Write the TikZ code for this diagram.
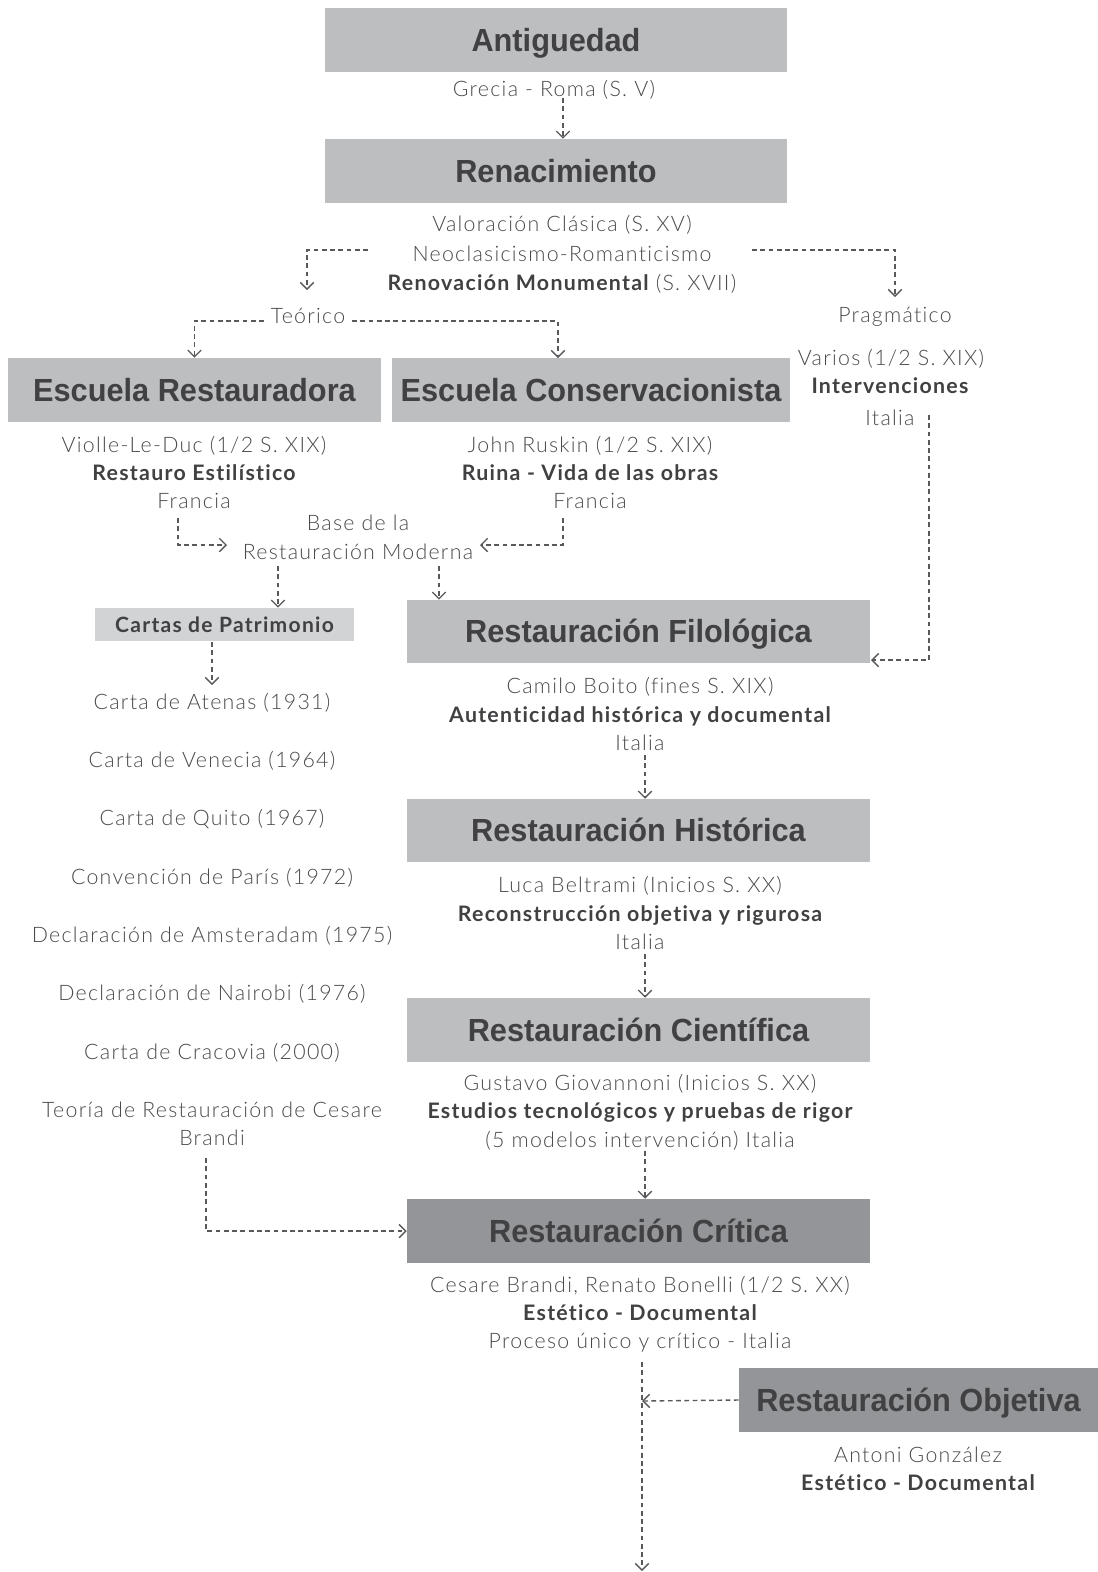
\documentclass[tikz,border=0pt]{standalone}
\usepackage{fontspec}
\setmainfont{Lato}[UprightFont=* Light, BoldFont=* Bold, LetterSpace=6, Ligatures=NoCommon]
\newfontfamily\headfont{Liberation Sans}[FakeStretch=0.96]
\usetikzlibrary{arrows.meta}

\definecolor{boxgray}{HTML}{BCBEC0}
\definecolor{boxlight}{HTML}{D1D3D4}
\definecolor{boxdark}{HTML}{939598}
\definecolor{headink}{HTML}{414042}
\definecolor{bodyink}{HTML}{4A4A4C}
\definecolor{lineink}{HTML}{58595B}

\tikzset{
  hbox/.style={fill=boxgray, text=headink, inner sep=0pt, anchor=center,
    text height=17pt, text depth=0pt,
    font=\headfont\bfseries\fontsize{24}{28}\selectfont},
  darkbox/.style={hbox, fill=boxdark},
  txt/.style={inner sep=0pt, anchor=base, text=bodyink,
    font=\fontsize{16}{19}\selectfont},
  btxt/.style={inner sep=0pt, anchor=base, text=headink,
    font=\bfseries\fontsize{16}{19}\selectfont},
  conn/.style={draw=lineink, line width=1.05pt, dash pattern=on 3.6pt off 2.6pt,
    -{Straight Barb[length=5pt,width=10pt]}}
}

\begin{document}
\begin{tikzpicture}[x=0.75pt, y=-0.75pt]
\useasboundingbox (0,0) rectangle (1098,1572);

% ---- heading boxes
\node[hbox, minimum width=346.5pt, minimum height=48pt] (ant) at (556,40) {Antiguedad};
\node[hbox, minimum width=346.5pt, minimum height=48pt] (ren) at (556,171) {Renacimiento};
\node[hbox, minimum width=279.75pt, minimum height=48pt] (er) at (194.5,390) {Escuela Restauradora};
\node[hbox, minimum width=298.5pt, minimum height=48pt] (ec) at (591,390) {Escuela Conservacionista};
\node[hbox, minimum width=347.25pt, minimum height=47.25pt] (fil) at (638.5,631.5) {Restauración Filológica};
\node[hbox, minimum width=347.25pt, minimum height=47.25pt] (his) at (638.5,830.5) {Restauración Histórica};
\node[hbox, minimum width=347.25pt, minimum height=48pt] (cie) at (638.5,1030) {Restauración Científica};
\node[darkbox, minimum width=347.25pt, minimum height=48pt] (cri) at (638.5,1231) {Restauración Crítica};
\node[darkbox, minimum width=269.25pt, minimum height=48pt] (obj) at (918.5,1400) {Restauración Objetiva};
\node[fill=boxlight, text=headink, inner sep=0pt, minimum width=194.25pt, minimum height=24.75pt,
      font=\bfseries\fontsize{15.8}{18}\selectfont] (cartas) at (224.5,624.5) {Cartas de Patrimonio};

% ---- texts
\node[txt] (grecia) at (554,96) {Grecia - Roma (S. V)};
\node[txt] (valor) at (562,231) {Valoración Clásica (S. XV)};
\node[txt] (neo) at (562,261) {Neoclasicismo-Romanticismo};
\node[txt] (renov) at (562,290) {\textbf{\textcolor{headink}{Renovación Monumental}} (S. XVII)};
\node[txt] (teo) at (308,323) {Teórico};
\node[txt] (prag) at (895,322) {Pragmático};
\node[txt] (varios) at (891,365) {Varios (1/2 S. XIX)};
\node[btxt] (interv) at (890,393) {Intervenciones};
\node[txt] (italiap) at (890,425) {Italia};

\node[txt] (viol) at (194,452) {Violle-Le-Duc (1/2 S. XIX)};
\node[btxt] (estil) at (194,480) {Restauro Estilístico};
\node[txt] (franl) at (194,508) {Francia};
\node[txt] (rusk) at (590,452) {John Ruskin (1/2 S. XIX)};
\node[btxt] (ruina) at (590,480) {Ruina - Vida de las obras};
\node[txt] (franr) at (590,508) {Francia};
\node[txt] (base1) at (358,530) {Base de la};
\node[txt] (base2) at (358,559) {Restauración Moderna};

\node[txt] (atenas) at (212,709) {Carta de Atenas (1931)};
\node[txt] (venecia) at (212,767) {Carta de Venecia (1964)};
\node[txt] (quito) at (212,825) {Carta de Quito (1967)};
\node[txt] (paris) at (212,884) {Convención de París (1972)};
\node[txt] (amst) at (212,942) {Declaración de Amsteradam (1975)};
\node[txt] (nair) at (212,1000) {Declaración de Nairobi (1976)};
\node[txt] (crac) at (212,1059) {Carta de Cracovia (2000)};
\node[txt] (teor1) at (212,1117) {Teoría de Restauración de Cesare};
\node[txt] (teor2) at (212,1145) {Brandi};

\node[txt] (boito) at (640,693) {Camilo Boito (fines S. XIX)};
\node[btxt] (auten) at (640,722) {Autenticidad histórica y documental};
\node[txt] (italf) at (640,750) {Italia};
\node[txt] (beltr) at (640,892) {Luca Beltrami (Inicios S. XX)};
\node[btxt] (recon) at (640,921) {Reconstrucción objetiva y rigurosa};
\node[txt] (italh) at (640,949) {Italia};
\node[txt] (giov) at (640,1090) {Gustavo Giovannoni (Inicios S. XX)};
\node[btxt] (estud) at (640,1118) {Estudios tecnológicos y pruebas de rigor};
\node[txt] (model) at (640,1147) {(5 modelos intervención) Italia};
\node[txt] (brandi) at (640,1292) {Cesare Brandi, Renato Bonelli (1/2 S. XX)};
\node[btxt] (estet) at (640,1320) {Estético - Documental};
\node[txt] (proc) at (640,1348) {Proceso único y crítico - Italia};
\node[txt] (gonz) at (918,1462) {Antoni González};
\node[btxt] (estet2) at (918,1490) {Estético - Documental};

% ---- connector end points
\coordinate (a1) at (563,98);
\coordinate (a2s) at (368,250);
\coordinate (a2e) at (307,290);
\coordinate (a3s) at (752,250);
\coordinate (a3e) at (895,297);
\coordinate (a4s) at (264,321);
\coordinate (a5s) at (352,321);
\coordinate (a5e) at (558,358);
\coordinate (a6s) at (178,518);
\coordinate (a6e) at (227,545);
\coordinate (a7s) at (563,518);
\coordinate (a7e) at (480,545);
\coordinate (a8s) at (278,566);
\coordinate (a9s) at (439,566);
\coordinate (a10s) at (929,415);
\coordinate (a10e) at (871,660);
\coordinate (a11s) at (212,642);
\coordinate (a11e) at (212,685);
\coordinate (a12s) at (645,755);
\coordinate (a13s) at (645,954);
\coordinate (a14s) at (645,1151);
\coordinate (a15s) at (206,1158);
\coordinate (a16s) at (642,1362);
\coordinate (a16e) at (642,1571);
\coordinate (a17e) at (642,1401);

% ---- connectors
\draw[conn] (a1) -- (a1 |- ren.north);
\draw[conn] (a2s) -| (a2e);
\draw[conn] (a3s) -| (a3e);
\draw[conn] (a4s) -| (er.north);
\draw[conn] (a5s) -| (a5e);
\draw[conn] (a6s) |- (a6e);
\draw[conn] (a7s) |- (a7e);
\draw[conn] (a8s) -- (a8s |- cartas.north);
\draw[conn] (a9s) -- (a9s |- fil.north);
\draw[conn] (a10s) |- (a10e);
\draw[conn] (a11s) -- (a11e);
\draw[conn] (a12s) -- (a12s |- his.north);
\draw[conn] (a13s) -- (a13s |- cie.north);
\draw[conn] (a14s) -- (a14s |- cri.north);
\draw[conn] (a15s) |- (cri.west);
\draw[conn] (a16s) -- (a16e);
\draw[conn] (obj.west) -- (a17e);
\end{tikzpicture}
\end{document}
